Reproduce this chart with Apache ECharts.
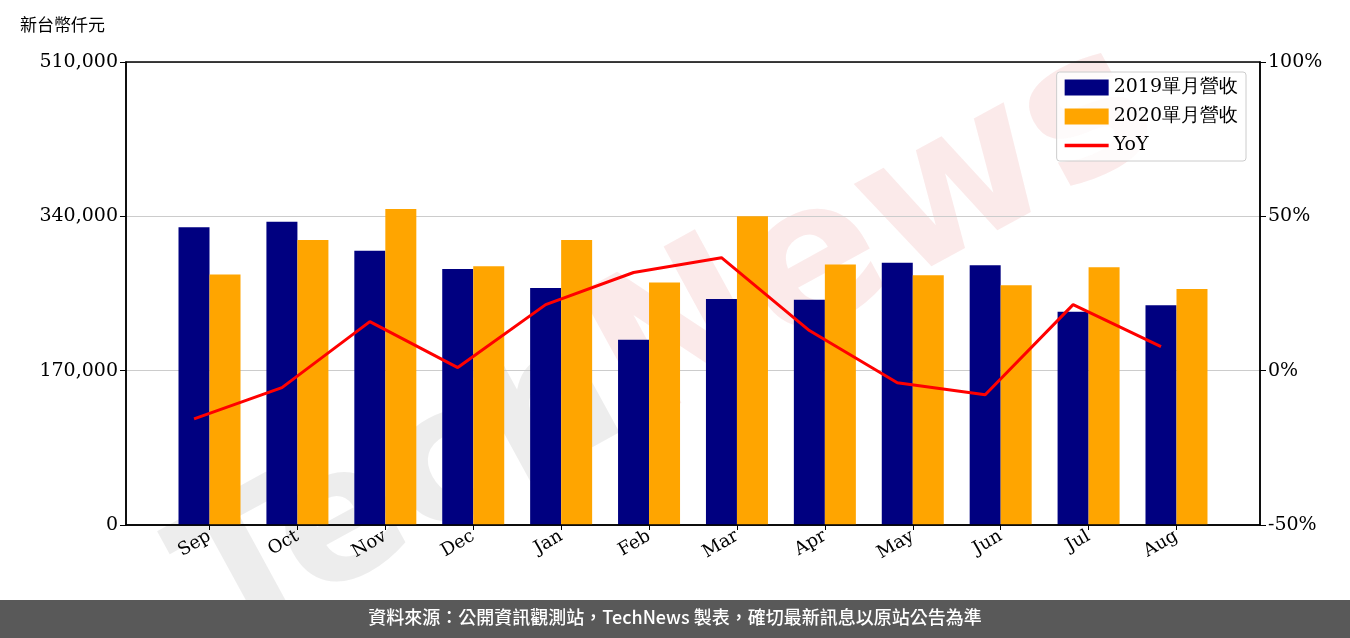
<!DOCTYPE html>
<html>
<head>
<meta charset="utf-8">
<script src="https://cdn.jsdelivr.net/npm/echarts@6/dist/echarts.min.js"></script>
<style>
html,body{margin:0;padding:0;background:#fff;}
#main{width:1350px;height:638px;}
</style>
</head>
<body>
<div id="main"></div>
<script>
var months = ['Sep','Oct','Nov','Dec','Jan','Feb','Mar','Apr','May','Jun','Jul','Aug'];
var rev2019 = [328000,334000,302000,282000,261000,204000,249000,248000,289000,286000,235000,242000];
var rev2020 = [276000,314000,348000,285000,314000,267000,340000,287000,275000,264000,284000,260000];
var yoy = [-15.6,-5.5,15.9,1.0,21.4,31.8,36.6,13.0,-3.9,-7.8,21.4,7.8];

var serif = 'DejaVu Serif';
// line points sit on the 2019 bar centres
var lineShift = 0.176;
var tickPos = months.map(function (m, i) { return i; });

var myChart = echarts.init(document.getElementById('main'));
option = {
    animation: false,
    textStyle: { fontFamily: serif },
    grid: { left: 126, right: 90, top: 62, bottom: 113, show: true, borderColor: '#000', borderWidth: 1.5, z: 5 },
    graphic: [
        {
            type: 'text', left: 20, top: 16,
            style: { text: '新台幣仟元', font: '17px "Noto Sans CJK TC"', fill: '#000' }
        },
        {
            type: 'text', x: 150, y: 520, rotation: 0.5, z: -1,
            style: {
                text: '{a|Tech}{b|News}',
                rich: {
                    a: { font: 'bold 185px "DejaVu Sans"', fill: 'rgba(190,190,190,0.28)' },
                    b: { font: 'bold 200px "DejaVu Sans"', fill: 'rgba(235,150,150,0.2)' }
                }
            }
        },
        {
            type: 'rect', left: 0, top: 600, z: 10,
            shape: { width: 1350, height: 38 },
            style: { fill: '#595959' }
        },
        {
            type: 'text', left: 'center', top: 608, z: 11,
            style: { text: '資料來源：公開資訊觀測站，TechNews 製表，確切最新訊息以原站公告為準', font: '500 18px "Noto Sans CJK TC"', fill: '#fff' }
        }
    ],
    legend: {
        right: 104, top: 72, orient: 'vertical', itemGap: 10,
        itemWidth: 44, itemHeight: 16,
        borderColor: '#ccc', borderWidth: 1, borderRadius: 3, padding: [6, 8],
        backgroundColor: 'rgba(255,255,255,0.8)',
        textStyle: { fontSize: 19, fontFamily: serif, color: '#000' },
        data: [
            { name: '2019單月營收', icon: 'rect' },
            { name: '2020單月營收', icon: 'rect' },
            { name: 'YoY', icon: 'path://M0,6L40,6L40,9L0,9Z' }
        ]
    },
    xAxis: {
        type: 'value', min: -0.95, max: 11.95,
        axisLine: { onZero: false, lineStyle: { color: '#000', width: 1.5 } },
        axisTick: { show: true, length: 5, customValues: tickPos, lineStyle: { color: '#000' } },
        splitLine: { show: false },
        axisLabel: {
            rotate: 30, fontSize: 18, color: '#000', margin: 10, customValues: tickPos,
            formatter: function (v) { return months[Math.round(v)] || ''; }
        }
    },
    yAxis: [
        {
            type: 'value', min: 0, max: 510000, interval: 170000,
            axisLine: { show: true, onZero: false, lineStyle: { color: '#000', width: 1.5 } },
            axisTick: { show: true, length: 6 },
            axisLabel: { fontSize: 19, color: '#000', formatter: function (v) { return v.toLocaleString('en-US'); } },
            splitLine: { lineStyle: { color: '#ccc', width: 1.2 } }
        },
        {
            type: 'value', min: -50, max: 100, interval: 50,
            axisLine: { show: true, onZero: false, lineStyle: { color: '#000', width: 1.5 } },
            axisTick: { show: true, length: 6 },
            axisLabel: { fontSize: 19, color: '#000', formatter: '{value}%' },
            splitLine: { show: false }
        }
    ],
    series: [
        {
            name: '2019單月營收', type: 'bar', barWidth: 31, barGap: '0%',
            data: rev2019.map(function (v, i) { return [i, v]; }),
            itemStyle: { color: '#000080' }
        },
        {
            name: '2020單月營收', type: 'bar', barWidth: 31,
            data: rev2020.map(function (v, i) { return [i, v]; }),
            itemStyle: { color: '#FFA500' }
        },
        {
            name: 'YoY', type: 'line', yAxisIndex: 1,
            data: yoy.map(function (v, i) { return [i - lineShift, v]; }),
            symbol: 'none', lineStyle: { color: '#ff0000', width: 3 }, itemStyle: { color: '#ff0000' }
        }
    ]
};
myChart.setOption(option);
</script>
</body>
</html>
